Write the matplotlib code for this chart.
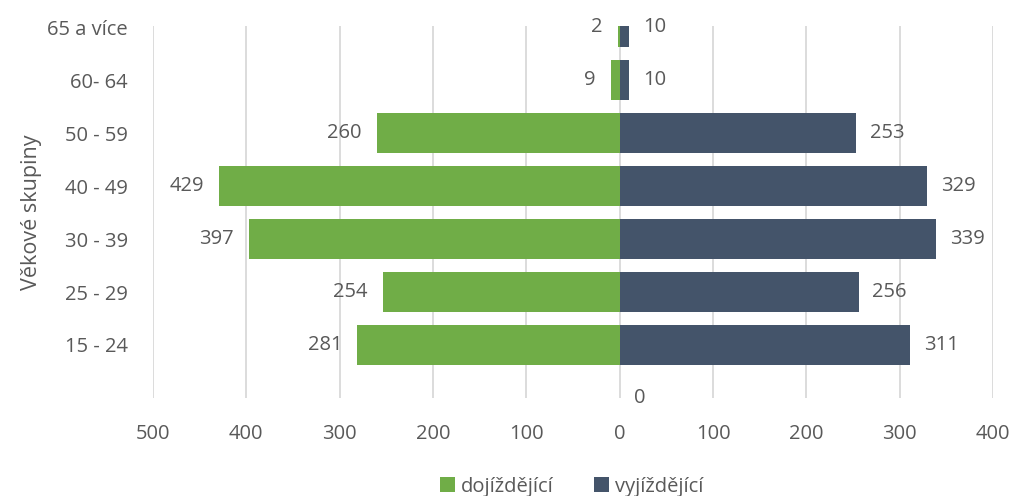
import matplotlib.pyplot as plt
import numpy as np

# Age groups, bottom to top; first slot is the empty one Excel left in
categories = ['', '15 - 24', '25 - 29', '30 - 39', '40 - 49', '50 - 59', '60- 64', '65 a více']
dojizdejici = [None, 281, 254, 397, 429, 260, 9, 2]
vyjizdejici = [0, 311, 256, 339, 329, 253, 10, 10]

x_ticks = [-500, -400, -300, -200, -100, 0, 100, 200, 300, 400]
x_tick_labels = ['500', '400', '300', '200', '100', '0', '100', '200', '300', '400']

GREEN = '#70AD47'
BLUE = '#44546A'
TEXT = '#595959'
GRID = '#D9D9D9'
FS = 14.5

plt.rcParams['font.family'] = ['Open Sans', 'DejaVu Sans']

fig = plt.figure(figsize=(10.12, 4.96), dpi=100)
ax = fig.add_axes([0.1512, 0.1976, 0.830, 0.750])

y = np.arange(len(categories))
left_vals = [-(v or 0) for v in dojizdejici]
ax.barh(y, left_vals, height=0.74, color=GREEN, label='dojíždějící', zorder=2)
ax.barh(y, vyjizdejici, height=0.74, color=BLUE, label='vyjíždějící', zorder=2)

# data labels
for yi, v in zip(y, dojizdejici):
    if v is None:
        continue
    ax.annotate(str(v), (-v, yi), xytext=(-11, 0), textcoords='offset points',
                ha='right', va='center', fontsize=FS, color=TEXT, annotation_clip=False)
for yi, v in zip(y, vyjizdejici):
    ax.annotate(str(v), (v, yi), xytext=(10, 0), textcoords='offset points',
                ha='left', va='center', fontsize=FS, color=TEXT, annotation_clip=False)

ax.set_xlim(-500, 400)
ax.set_ylim(0, 7.02)
ax.set_xticks(x_ticks)
ax.set_xticklabels(x_tick_labels)
ax.set_yticks(y)
ax.set_yticklabels(categories)
ax.tick_params(axis='both', length=0, labelsize=FS, colors=TEXT)
ax.tick_params(axis='x', pad=19)
ax.tick_params(axis='y', pad=18)

ax.grid(axis='x', color=GRID, linewidth=1.3, zorder=0)
ax.set_axisbelow(True)
for s in ax.spines.values():
    s.set_visible(False)

ax.set_ylabel('Věkové skupiny', fontsize=15.5, color=TEXT, labelpad=4)

fig.legend(loc='lower center', bbox_to_anchor=(0.565, -0.038), ncol=2, frameon=False,
           fontsize=FS, labelcolor=TEXT, handlelength=0.75, handleheight=0.75,
           handletextpad=0.3, columnspacing=2.0)

fig.savefig('out.png', dpi=100)
